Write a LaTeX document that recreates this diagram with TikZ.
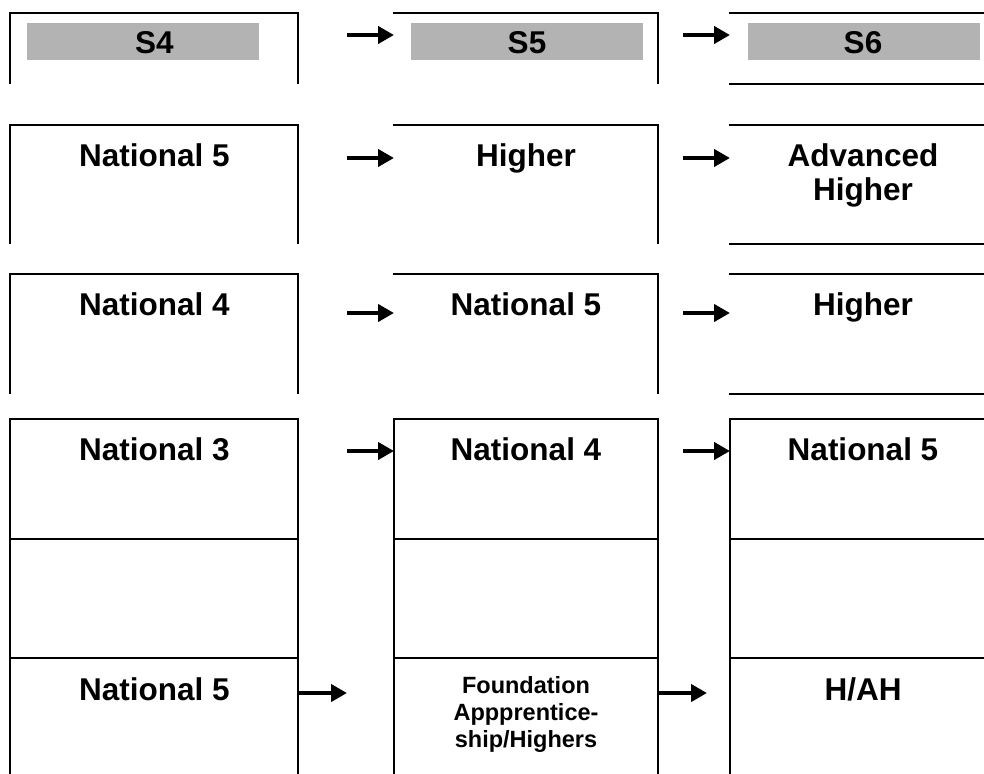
\documentclass[tikz,border=0pt]{standalone}
\usepackage{fontspec}
\setmainfont{Liberation Sans}
\usetikzlibrary{arrows.meta}
\definecolor{bargray}{RGB}{179,179,179}
\begin{document}
\begin{tikzpicture}[x=1pt,y=-1pt,
  cellbox/.style 2 args={minimum width=#1pt, minimum height=#2pt, inner sep=0pt, outer sep=0pt, anchor=north west, draw=none},
  edge/.style={line width=2.2pt, line cap=rect},
  bar/.style={fill=bargray, minimum width=232pt, minimum height=37pt, inner sep=0pt, anchor=north west},
  big/.style={font=\bfseries\fontsize{31.5}{34}\selectfont, inner sep=0pt, anchor=base, align=center},
  small/.style={font=\bfseries\fontsize{23.5}{27}\selectfont, inner sep=0pt, anchor=base, align=center},
  arr/.style={line width=4.8pt, -{Triangle[length=16pt,width=17pt]}}]
\useasboundingbox (0,0) rectangle (984,773);
\clip (0,0) rectangle (984,773);
% cells
\node[cellbox={288}{70}]  (r1c1) at (10,13) {};
\node[cellbox={264}{70}]  (r1c2) at (394,13) {};
\node[cellbox={265}{71}]  (r1c3) at (730,13) {};
\node[cellbox={288}{118}] (r2c1) at (10,125) {};
\node[cellbox={264}{118}] (r2c2) at (394,125) {};
\node[cellbox={265}{119}] (r2c3) at (730,125) {};
\node[cellbox={288}{119}] (r3c1) at (10,274) {};
\node[cellbox={264}{119}] (r3c2) at (394,274) {};
\node[cellbox={265}{120}] (r3c3) at (730,274) {};
\node[cellbox={288}{120}] (r4c1) at (10,419) {};
\node[cellbox={264}{120}] (r4c2) at (394,419) {};
\node[cellbox={265}{120}] (r4c3) at (730,419) {};
\node[cellbox={288}{119}] (r5c1) at (10,539) {};
\node[cellbox={264}{119}] (r5c2) at (394,539) {};
\node[cellbox={265}{119}] (r5c3) at (730,539) {};
\node[cellbox={288}{140}] (r6c1) at (10,658) {};
\node[cellbox={264}{140}] (r6c2) at (394,658) {};
\node[cellbox={265}{140}] (r6c3) at (730,658) {};
% partial borders, rows 1-3
\foreach \r in {1,2,3}{
  \draw[edge] (r\r c1.south west) -- (r\r c1.north west) -- (r\r c1.north east) -- (r\r c1.south east);
  \draw[edge] (r\r c2.north west) -- (r\r c2.north east) -- (r\r c2.south east);
  \draw[edge] (r\r c3.north west) -- (r\r c3.north east);
  \draw[edge] (r\r c3.south west) -- (r\r c3.south east);
}
% full borders, rows 4-6
\foreach \r in {4,5,6}{
  \foreach \c in {1,2,3}{
    \draw[edge] (r\r c\c.north west) rectangle (r\r c\c.south east);
  }
}
% header bars
\node[bar] (bar4) at (27,23) {};
\node[bar] (bar5) at (411,23) {};
\node[bar] (bar6) at (748,23) {};
\node[big] (s4) at (154.5,53.5) {S4};
\node[big] (s5) at (527,53.5) {S5};
\node[big] (s6) at (863,53.5) {S6};
% texts (base anchor of multi-line nodes = last line)
\node[big] (t21) at (154.5,166) {National 5};
\node[big] (t22) at (526,166) {Higher};
\node[big] (t23) at (863,200) {Advanced\\Higher};
\node[big] (t31) at (154.5,315) {National 4};
\node[big] (t32) at (526,315) {National 5};
\node[big] (t33) at (863,315) {Higher};
\node[big] (t41) at (154.5,460) {National 3};
\node[big] (t42) at (526,460) {National 4};
\node[big] (t43) at (863,460) {National 5};
\node[big] (t61) at (154.5,700) {National 5};
\node[small] (t62) at (526,747) {Foundation\\Appprentice-\\ship/Highers};
\node[big] (t63) at (863,700) {H/AH};
% arrow ends
\coordinate (a1s) at (347,35);  \coordinate (a1e) at (394,35);
\coordinate (b1s) at (683,35);  \coordinate (b1e) at (730,35);
\coordinate (a2s) at (347,158); \coordinate (a2e) at (394,158);
\coordinate (b2s) at (683,158); \coordinate (b2e) at (730,158);
\coordinate (a3s) at (347,313); \coordinate (a3e) at (394,313);
\coordinate (b3s) at (683,313); \coordinate (b3e) at (730,313);
\coordinate (a4s) at (347,451); \coordinate (a4e) at (394,451);
\coordinate (b4s) at (683,451); \coordinate (b4e) at (730,451);
\coordinate (a6s) at (298,693); \coordinate (a6e) at (347,693);
\coordinate (b6s) at (658,693); \coordinate (b6e) at (707,693);
\foreach \p in {a1,b1,a2,b2,a3,b3,a4,b4,a6,b6}{
  \draw[arr] (\p s) -- (\p e);
}
\end{tikzpicture}
\end{document}
